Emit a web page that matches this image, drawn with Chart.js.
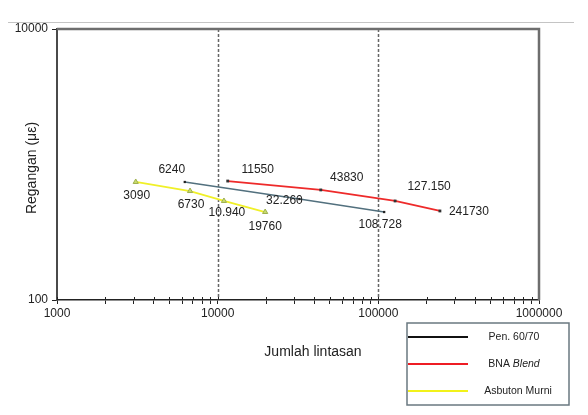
<!DOCTYPE html>
<html>
<head>
<meta charset="utf-8">
<script src="https://cdn.jsdelivr.net/npm/chart.js@4.4.0/dist/chart.umd.min.js"></script>
<style>
  body { margin: 0; background: #fff; }
  #wrap { width: 588px; height: 415px; }
</style>
</head>
<body>
<div id="wrap"><canvas id="strainChart" width="588" height="415"></canvas></div>
<script>
// values
const penX = [6240, 32260, 108728];
const penY = [743, 556, 446];
const penLabels = ['6240', '32.260', '108.728'];

const bnaX = [11550, 43830, 127150, 241730];
const bnaY = [755, 649, 538, 454];
const bnaLabels = ['11550', '43830', '127.150', '241730'];

const asbX = [3090, 6730, 10940, 19760];
const asbY = [743, 637, 538, 446];
const asbLabels = ['3090', '6730', '10.940', '19760'];

const yTicks = [100, 10000];
const xMajor = [1000, 10000, 100000, 1000000];
const dashLines = [10000, 100000];

const FONT = '"Liberation Sans", Arial, sans-serif';

// where each point label sits relative to its point
const labelOffsets = [
    [[-13, -12], [-15, 2], [-4, 13]],
    [[30, -11], [26, -12], [34, -14], [29, 1]],
    [[1, 14], [1, 14], [3, 12], [0, 15]]
];
const pointLabels = [penLabels, bnaLabels, asbLabels];

function toPoints(xs, ys) {
    return xs.map((x, i) => ({ x: x, y: ys[i] }));
}

function buildXTicks() {
    const ticks = [];
    for (let d = 0; d < xMajor.length - 1; d++) {
        for (let m = 1; m <= 9; m++) ticks.push({ value: xMajor[d] * m });
    }
    ticks.push({ value: xMajor[xMajor.length - 1] });
    return ticks;
}

const decorPlugin = {
    id: 'decor',
    beforeDatasetsDraw(chart) {
        const ctx = chart.ctx;
        const a = chart.chartArea;
        const xs = chart.scales.x;
        ctx.save();
        // grey rule above the plot
        ctx.strokeStyle = '#c4c4c4';
        ctx.lineWidth = 1;
        ctx.beginPath();
        ctx.moveTo(8, 22.5);
        ctx.lineTo(574, 22.5);
        ctx.stroke();
        // dashed verticals
        ctx.strokeStyle = '#666';
        ctx.lineWidth = 1.5;
        ctx.setLineDash([3, 2]);
        dashLines.forEach(v => {
            const px = Math.round(xs.getPixelForValue(v)) + 0.5;
            ctx.beginPath();
            ctx.moveTo(px, a.top);
            ctx.lineTo(px, a.bottom);
            ctx.stroke();
        });
        ctx.setLineDash([]);
        // tick marks poke a little above the x axis too
        ctx.strokeStyle = '#222';
        ctx.lineWidth = 1;
        xs.ticks.forEach(t => {
            const px = Math.round(xs.getPixelForValue(t.value)) + 0.5;
            ctx.beginPath();
            ctx.moveTo(px, a.bottom - 3);
            ctx.lineTo(px, a.bottom);
            ctx.stroke();
        });
        // top and right frame
        ctx.strokeStyle = '#6e6e6e';
        ctx.lineWidth = 2.5;
        ctx.beginPath();
        ctx.moveTo(a.left, a.top);
        ctx.lineTo(a.right, a.top);
        ctx.lineTo(a.right, a.bottom);
        ctx.stroke();
        ctx.restore();
    },
    afterDatasetsDraw(chart) {
        const ctx = chart.ctx;
        ctx.save();
        ctx.font = '12px ' + FONT;
        ctx.fillStyle = '#222';
        ctx.textAlign = 'center';
        ctx.textBaseline = 'middle';
        chart.data.datasets.forEach((ds, di) => {
            const meta = chart.getDatasetMeta(di);
            meta.data.forEach((pt, i) => {
                const off = labelOffsets[di][i];
                ctx.fillText(pointLabels[di][i], pt.x + off[0], pt.y + off[1]);
            });
        });

        // axis titles
        ctx.font = '14px ' + FONT;
        ctx.fillStyle = '#222';
        ctx.fillText('Jumlah lintasan', 313, 352);
        ctx.save();
        ctx.translate(32, 168);
        ctx.rotate(-Math.PI / 2);
        ctx.fillText('Regangan (\u03bc\u03b5)', 0, 0);
        ctx.restore();

        // legend box
        const bx = 407, by = 323, bw = 162, bh = 82;
        ctx.strokeStyle = '#6a7880';
        ctx.lineWidth = 1.5;
        ctx.strokeRect(bx, by, bw, bh);
        const rows = [337, 364, 391];
        const legendColors = ['#111', '#ee1c24', '#f2f21a'];
        ctx.font = '10.5px ' + FONT;
        chart.data.datasets.forEach((ds, i) => {
            const y = rows[i];
            ctx.strokeStyle = legendColors[i];
            ctx.lineWidth = 2;
            ctx.beginPath();
            ctx.moveTo(bx + 1, y);
            ctx.lineTo(bx + 61, y);
            ctx.stroke();
            ctx.fillStyle = '#222';
            if (ds.label === 'BNA Blend') {
                ctx.font = '10.5px ' + FONT;
                const w1 = ctx.measureText('BNA ').width;
                ctx.font = 'italic 10.5px ' + FONT;
                const w2 = ctx.measureText('Blend').width;
                const start = 514 - (w1 + w2) / 2;
                ctx.textAlign = 'left';
                ctx.font = '10.5px ' + FONT;
                ctx.fillText('BNA ', start, y);
                ctx.font = 'italic 10.5px ' + FONT;
                ctx.fillText('Blend', start + w1, y);
                ctx.textAlign = 'center';
                ctx.font = '10.5px ' + FONT;
            } else {
                ctx.fillText(ds.label, i === 2 ? 518 : 514, y);
            }
        });
        ctx.restore();
    }
};

document.addEventListener('DOMContentLoaded', () => {
    const ctx = document.getElementById('strainChart').getContext('2d');

    const strainChart = new Chart(ctx, {
        type: 'scatter',
        data: {
            datasets: [{
                label: 'Pen. 60/70',
                data: toPoints(penX, penY),
                showLine: true,
                borderColor: '#52707e',
                borderWidth: 1.5,
                pointStyle: 'rect',
                pointRadius: 1.6,
                pointBackgroundColor: '#222',
                pointBorderColor: '#222',
                pointBorderWidth: 0
            }, {
                label: 'BNA Blend',
                data: toPoints(bnaX, bnaY),
                showLine: true,
                borderColor: '#ee2a2a',
                borderWidth: 1.8,
                pointStyle: 'rect',
                pointRadius: 2,
                pointBackgroundColor: '#333',
                pointBorderColor: '#333',
                pointBorderWidth: 0
            }, {
                label: 'Asbuton Murni',
                data: toPoints(asbX, asbY),
                showLine: true,
                borderColor: '#f0f028',
                borderWidth: 1.8,
                pointStyle: 'triangle',
                pointRadius: 3,
                pointBackgroundColor: '#c8dc6c',
                pointBorderColor: '#9fb050',
                pointBorderWidth: 1
            }]
        },
        options: {
            responsive: false,
            animation: false,
            layout: { padding: { top: 29, right: 49, left: 0, bottom: 0 } },
            plugins: {
                legend: { display: false },
                tooltip: { enabled: false }
            },
            scales: {
                x: {
                    type: 'logarithmic',
                    min: 1000,
                    max: 1000000,
                    afterBuildTicks: scale => { scale.ticks = buildXTicks(); },
                    afterFit: scale => { scale.height = 115; },
                    grid: {
                        drawOnChartArea: false,
                        tickLength: 4,
                        color: '#222',
                        lineWidth: 1
                    },
                    border: { color: '#222', width: 1.5 },
                    ticks: {
                        autoSkip: false,
                        maxRotation: 0,
                        padding: 2,
                        color: '#222',
                        font: { family: FONT, size: 12 },
                        callback: value => xMajor.includes(value) ? String(value) : ''
                    }
                },
                y: {
                    type: 'logarithmic',
                    min: 100,
                    max: 10000,
                    afterBuildTicks: scale => { scale.ticks = yTicks.map(v => ({ value: v })); },
                    afterFit: scale => { scale.width = 57; },
                    grid: {
                        drawOnChartArea: false,
                        tickLength: 5,
                        color: '#222',
                        lineWidth: 1
                    },
                    border: { color: '#4a4a4a', width: 2 },
                    ticks: {
                        padding: 4,
                        color: '#222',
                        font: { family: FONT, size: 12 },
                        callback: value => String(value)
                    }
                }
            }
        },
        plugins: [decorPlugin]
    });
});
</script>
</body>
</html>
